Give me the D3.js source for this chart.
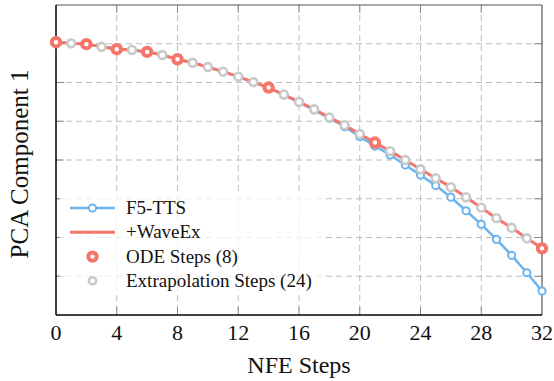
<!DOCTYPE html>
<html>
<head>
<meta charset="utf-8">
<script src="https://cdn.jsdelivr.net/npm/d3@7"></script>
<style>
  body { margin: 0; background: #fff; }
  svg text { font-family: "Liberation Serif", "DejaVu Serif", serif; fill: #111; }
</style>
</head>
<body>
<div id="chart"></div>
<script>
// NFE step index 0..32
var steps = d3.range(0, 33);
// F5-TTS trajectory (PCA component 1, arbitrary units)
var f5tts = [7.04, 7.01, 6.99, 6.93, 6.88, 6.84, 6.78, 6.71, 6.60, 6.51, 6.40, 6.28, 6.15, 6.01, 5.86, 5.68, 5.49, 5.29,
             5.08, 4.86, 4.60, 4.36, 4.13, 3.87, 3.61, 3.34, 3.04, 2.69, 2.34, 1.95, 1.54, 1.09, 0.62];
// +WaveEx trajectory
var waveex = [7.04, 7.01, 6.99, 6.92, 6.86, 6.84, 6.79, 6.71, 6.60, 6.51, 6.40, 6.28, 6.15, 6.01, 5.87, 5.69, 5.50, 5.31,
              5.10, 4.90, 4.67, 4.45, 4.23, 4.00, 3.76, 3.53, 3.30, 3.04, 2.77, 2.50, 2.25, 1.98, 1.72];
// steps where the ODE solver is actually called
var odeSteps = [0, 2, 4, 6, 8, 14, 21, 32];
var xTicks = [0, 4, 8, 12, 16, 20, 24, 28, 32];
var yTicks = [1, 2, 3, 4, 5, 6, 7];

var blue = "#6db3ec", red = "#f4766a", grey = "#c9c9c9";

var W = 554, H = 381;
var margin = {top: 5, right: 12, bottom: 66, left: 56};
var width = W - margin.left - margin.right,
    height = H - margin.top - margin.bottom;

var svg = d3.select("#chart").append("svg")
    .attr("width", W).attr("height", H);
var g = svg.append("g")
    .attr("transform", "translate(" + margin.left + "," + margin.top + ")");

var x = d3.scaleLinear().domain([0, 32]).range([0, width]);
var y = d3.scaleLinear().domain([0, 8]).range([height, 0]);

// grid
g.append("g").selectAll("line").data(xTicks.slice(1, -1)).enter().append("line")
    .attr("x1", d => x(d)).attr("x2", d => x(d)).attr("y1", 0).attr("y2", height)
    .attr("stroke", "#bdbdbd").attr("stroke-dasharray", "6,4").attr("stroke-width", 1);
g.append("g").selectAll("line").data(yTicks).enter().append("line")
    .attr("y1", d => y(d)).attr("y2", d => y(d)).attr("x1", 0).attr("x2", width)
    .attr("stroke", "#bdbdbd").attr("stroke-dasharray", "6,4").attr("stroke-width", 1);

// inward ticks on all sides
var tk = 8;
var ticks = g.append("g").attr("stroke", "#8a8a8a").attr("stroke-width", 1);
xTicks.slice(1, -1).forEach(function(d) {
  ticks.append("line").attr("x1", x(d)).attr("x2", x(d)).attr("y1", height).attr("y2", height - tk);
  ticks.append("line").attr("x1", x(d)).attr("x2", x(d)).attr("y1", 0).attr("y2", tk);
});
yTicks.forEach(function(d) {
  ticks.append("line").attr("y1", y(d)).attr("y2", y(d)).attr("x1", 0).attr("x2", tk);
  ticks.append("line").attr("y1", y(d)).attr("y2", y(d)).attr("x1", width).attr("x2", width - tk);
});

// frame
g.append("line").attr("x1", 0).attr("x2", width).attr("y1", 0).attr("y2", 0).attr("stroke", "#555").attr("stroke-width", 1.2);
g.append("line").attr("x1", width).attr("x2", width).attr("y1", 0).attr("y2", height).attr("stroke", "#555").attr("stroke-width", 1.2);
g.append("line").attr("x1", 0).attr("x2", 0).attr("y1", 0).attr("y2", height).attr("stroke", "#000").attr("stroke-width", 1.5);
g.append("line").attr("x1", 0).attr("x2", width).attr("y1", height).attr("y2", height).attr("stroke", "#000").attr("stroke-width", 1.5);

// x tick labels
g.append("g").selectAll("text").data(xTicks).enter().append("text")
    .attr("x", d => x(d)).attr("y", height + 25)
    .attr("text-anchor", "middle").style("font-size", "22px").text(d => d);

// axis titles
g.append("text").attr("x", width / 2).attr("y", height + 58)
    .attr("text-anchor", "middle").style("font-size", "24px").text("NFE Steps");
svg.append("text").attr("transform", "translate(28,164) rotate(-90)")
    .attr("text-anchor", "middle").style("font-size", "25px").text("PCA Component 1");

var line = d3.line().x((d, i) => x(steps[i])).y(d => y(d));

// F5-TTS
g.append("path").datum(f5tts).attr("d", line)
    .attr("fill", "none").attr("stroke", blue).attr("stroke-width", 2.5);
g.append("g").selectAll("circle").data(f5tts).enter().append("circle")
    .attr("cx", (d, i) => x(steps[i])).attr("cy", d => y(d)).attr("r", 3.6)
    .attr("fill", "#fff").attr("stroke", blue).attr("stroke-width", 2);

// +WaveEx
g.append("path").datum(waveex).attr("d", line)
    .attr("fill", "none").attr("stroke", red).attr("stroke-width", 3);
g.append("g").selectAll("circle").data(waveex).enter().append("circle")
    .attr("cx", (d, i) => x(steps[i])).attr("cy", d => y(d))
    .attr("r", (d, i) => odeSteps.indexOf(steps[i]) >= 0 ? 4.2 : 3.9)
    .attr("fill", "#fff")
    .attr("stroke", (d, i) => odeSteps.indexOf(steps[i]) >= 0 ? red : grey)
    .attr("stroke-width", (d, i) => odeSteps.indexOf(steps[i]) >= 0 ? 4 : 2.6);

// legend
var lg = g.append("g").attr("transform", "translate(4,190)");
lg.append("rect").attr("x", 0).attr("y", 0).attr("width", 262).attr("height", 100)
    .attr("fill", "#fff").attr("fill-opacity", 0.75);
var items = [
  {label: "F5-TTS", kind: "line", color: blue},
  {label: "+WaveEx", kind: "line", color: red},
  {label: "ODE Steps (8)", kind: "ode", color: red},
  {label: "Extrapolation Steps (24)", kind: "ext", color: grey}
];
items.forEach(function(it, i) {
  var yy = 13 + i * 24.3;
  if (it.kind === "line") {
    lg.append("line").attr("x1", 10).attr("x2", 55).attr("y1", yy).attr("y2", yy)
      .attr("stroke", it.color).attr("stroke-width", i === 0 ? 2.5 : 3);
  }
  if (it.kind !== "line" || i === 0) {
    lg.append("circle").attr("cx", 32.5).attr("cy", yy).attr("r", it.kind === "ode" ? 4.2 : 3.6)
      .attr("fill", "#fff").attr("stroke", it.color)
      .attr("stroke-width", it.kind === "ode" ? 4 : (it.kind === "ext" ? 2.6 : 2));
  }
  lg.append("text").attr("x", 66).attr("y", yy + 6).style("font-size", "19px").text(it.label);
});
</script>
</body>
</html>
